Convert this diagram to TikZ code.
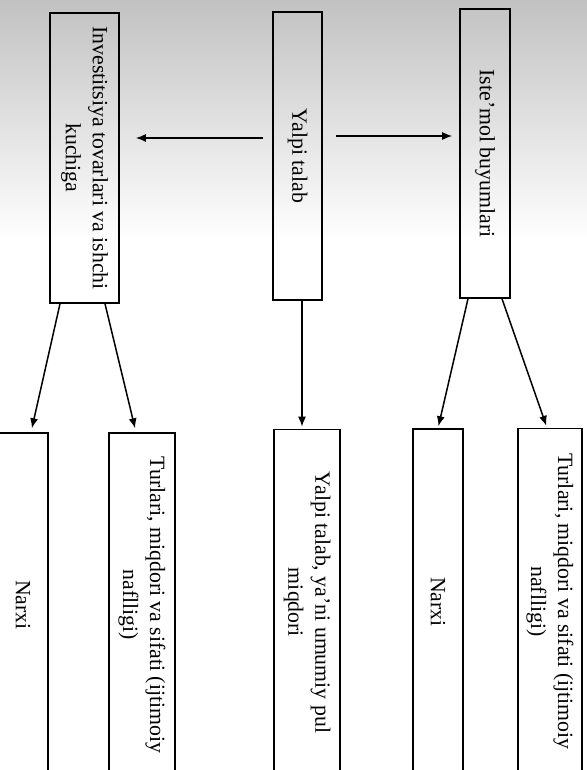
\documentclass[tikz,border=0pt]{standalone}
\usepackage{fontspec}
\setmainfont{Liberation Serif}
\usetikzlibrary{arrows.meta}
\begin{document}
\begin{tikzpicture}[x=0.5pt,y=-0.5pt,
  box/.style={draw,line width=0.8pt,rotate=-90,inner sep=0pt,align=center,
    font=\fontsize{10.9pt}{13.5pt}\selectfont},
  arr/.style={line width=0.75pt,-{Latex[length=5pt,width=4pt]}}]
  \useasboundingbox (0,0) rectangle (587,770);
  \clip (0,0) rectangle (587,770);
  \fill[white] (0,0) rectangle (587,770);
  \shade[top color=black!24,bottom color=white] (0,0) rectangle (587,240);
  \node[box,minimum width=145pt,minimum height=34.5pt] (inv) at (84.5,158) {Investitsiya tovarlari va ishchi\\kuchiga};
  \node[box,minimum width=144pt,minimum height=24.5pt] (yalpi) at (297.5,156) {Yalpi talab};
  \node[box,minimum width=144.5pt,minimum height=25pt] (istemol) at (485,153.5) {Iste’mol buyumlari};
  \node[box,minimum width=172pt,minimum height=25pt] (narxiL) at (23,605) {Narxi};
  \node[box,minimum width=172pt,minimum height=33pt] (turlL) at (142,605) {Turlari, miqdori va sifati (ijtimoiy\\naflligi)};
  \node[box,minimum width=173pt,minimum height=33pt] (yalpiP) at (307,602.5) {Yalpi talab, ya’ni umumiy pul\\miqdori};
  \node[box,minimum width=173pt,minimum height=25pt] (narxiR) at (438,602) {Narxi};
  \node[box,minimum width=173pt,minimum height=32pt] (turlR) at (550,601.5) {Turlari, miqdori va sifati (ijtimoiy\\naflligi)};
  \draw[arr,shorten <=4.5pt,shorten >=8pt] ([yshift=9pt]yalpi.south) -- ([yshift=10pt]inv.north);
  \draw[arr,shorten <=6.5pt,shorten >=3.5pt] ([yshift=10pt]yalpi.north) -- ([yshift=8.75pt]istemol.south);
  \draw[arr,shorten >=2pt] ([xshift=-12.25pt]inv.east) -- ([xshift=4pt]narxiL.west);
  \draw[arr,shorten >=2pt] ([xshift=10.25pt]inv.east) -- ([xshift=-3pt]turlL.west);
  \draw[arr,shorten >=1pt] ([xshift=2.25pt]yalpi.east) -- ([xshift=-2.5pt]yalpiP.west);
  \draw[arr,shorten >=1pt] ([xshift=-8.5pt]istemol.east) -- (narxiR.west);
  \draw[arr,shorten >=1pt] ([xshift=8.5pt]istemol.east) -- ([xshift=-1.5pt]turlR.west);
\end{tikzpicture}
\end{document}
